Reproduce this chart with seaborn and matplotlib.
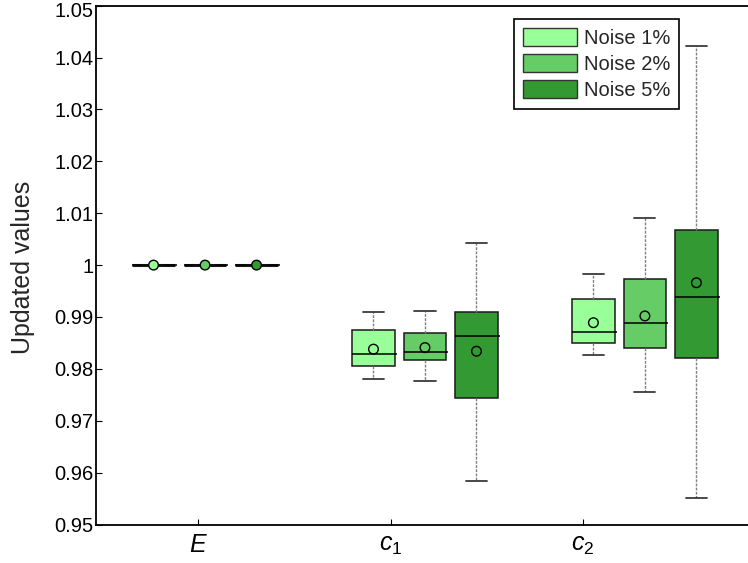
import numpy as np
import pandas as pd
import matplotlib
matplotlib.use("Agg")
import matplotlib.pyplot as plt
from matplotlib.patches import Patch
from matplotlib.transforms import ScaledTranslation
import seaborn as sns

# Parameters and noise levels
categories = ["E", "c1", "c2"]
category_labels = ["$E$", "$c_1$", "$c_2$"]
noise_levels = ["Noise 1%", "Noise 2%", "Noise 5%"]
colors = ["#99FF99", "#66CC66", "#339933"]

# Box statistics per parameter (rows) and noise level (columns)
whisker_low = [[1.0, 1.0, 1.0],
               [0.9781, 0.9777, 0.9584],
               [0.9827, 0.9755, 0.9551]]
quartile_1 = [[1.0, 1.0, 1.0],
              [0.9806, 0.9817, 0.9743],
              [0.9850, 0.9840, 0.9820]]
medians = [[1.0, 1.0, 1.0],
           [0.9828, 0.9832, 0.9863],
           [0.9871, 0.9889, 0.9939]]
quartile_3 = [[1.0, 1.0, 1.0],
              [0.9874, 0.9870, 0.9910],
              [0.9934, 0.9973, 1.0068]]
whisker_high = [[1.0, 1.0, 1.0],
                [0.9910, 0.9912, 1.0043],
                [0.9982, 1.0090, 1.0423]]
means = [[1.0, 1.0, 1.0],
         [0.9838, 0.9841, 0.9834],
         [0.9889, 0.9902, 0.9966]]

# Layout of the grouped boxes along x
group_centers = [0.0, 4.27, 8.54]
box_offsets = [-1.0, 0.0, 1.0]
tick_positions = [-0.136, 3.612, 7.340]

rows = []
mean_rows = []
for i, cat in enumerate(categories):
    for j, lvl in enumerate(noise_levels):
        pos = group_centers[i] + box_offsets[j]
        for v in (whisker_low[i][j], quartile_1[i][j], medians[i][j],
                  quartile_3[i][j], whisker_high[i][j]):
            rows.append({"pos": pos, "value": v, "noise": lvl, "param": cat})
        mean_rows.append({"pos": pos, "value": means[i][j], "noise": lvl, "param": cat})
df = pd.DataFrame(rows)
dm = pd.DataFrame(mean_rows)

sns.set_style("ticks")
plt.rcParams["font.family"] = ["Liberation Sans", "DejaVu Sans"]
plt.rcParams["mathtext.fontset"] = "custom"
plt.rcParams["mathtext.it"] = "Liberation Sans:italic"
plt.rcParams["mathtext.rm"] = "Liberation Sans"

fig = plt.figure(figsize=(7.48, 5.63), dpi=100)
ax = fig.add_axes([96 / 748, 1 - 524.5 / 563, 672 / 748, 518.8 / 563])

palette = dict(zip(noise_levels, colors))
sns.boxplot(data=df, x="pos", y="value", hue="noise", palette=palette,
            native_scale=True, dodge=False, width=0.82, whis=(0, 100),
            saturation=1, legend=False, linewidth=1.0, linecolor="#1a1a1a",
            boxprops=dict(edgecolor="#1a1a1a", linewidth=1.1),
            medianprops=dict(color="#000001", linewidth=1.1),
            whiskerprops=dict(color="#808080", linestyle=(0, (2, 1)), linewidth=1.0),
            capprops=dict(color="#3a3a3a", linewidth=1.3),
            ax=ax)

# Medians drawn slightly past the right edge of each box
for line in ax.lines:
    if line.get_color() == "#000001":
        xd = np.asarray(line.get_xdata(), dtype=float)
        line.set_xdata([xd[0], xd[1] + 0.04])
        line.set_color("black")

# Collapsed boxes (no spread) show as a heavy bar
for p in ax.patches:
    ext = p.get_path().get_extents()
    if ext.height < 1e-6:
        p.set_linewidth(2.2)

# Mean markers: filled for E, open for c1 and c2
de = dm[dm["param"] == "E"]
dc = dm[dm["param"] != "E"]
sns.scatterplot(data=de, x="pos", y="value", hue="noise", palette=palette,
                s=48, edgecolor="black", linewidth=1.0, legend=False,
                zorder=5, ax=ax)
sns.scatterplot(data=dc, x="pos", y="value", s=48, facecolor="none",
                edgecolor="black", linewidth=1.0, legend=False, zorder=5, ax=ax)

ax.set_xlim(-2.117, 10.93)
ax.set_ylim(0.95, 1.05)
yt = np.round(np.arange(0.95, 1.0501, 0.01), 2)
ax.set_yticks(yt)
ax.set_yticklabels(["%g" % v for v in yt], fontsize=14.5)
ax.set_xticks(tick_positions)
ax.set_xticklabels(category_labels, fontsize=18)
ax.set_xlabel("")
ax.set_ylabel("Updated values", fontsize=18)
ax.yaxis.set_label_coords(-0.091, 0.496)
ax.tick_params(axis="both", direction="in", length=4, width=0.8, colors="black",
               left=True, bottom=True, top=False, right=False)
ax.tick_params(axis="y", pad=2)
ax.tick_params(axis="x", pad=6)
for side in ("top", "bottom", "left", "right"):
    ax.spines[side].set_visible(True)
    ax.spines[side].set_color("black")
    ax.spines[side].set_linewidth(1.3)

# Keep the topmost tick label inside the canvas
top_label = ax.get_yticklabels()[-1]
top_label.set_transform(top_label.get_transform()
                        + ScaledTranslation(0, -4 / 100, fig.dpi_scale_trans))

handles = [Patch(facecolor=c, edgecolor="#333333", linewidth=1.0) for c in colors]
leg = ax.legend(handles, noise_levels, loc="upper right",
                bbox_to_anchor=(679 / 748, 1 - 19 / 563),
                bbox_transform=fig.transFigure, borderaxespad=0,
                fontsize=14.5, handlelength=2.66, handleheight=1.0,
                labelspacing=0.3, handletextpad=0.35, borderpad=0.45,
                fancybox=False, framealpha=1, edgecolor="black")
leg.get_frame().set_linewidth(1.2)

fig.savefig("out.png", dpi=100)
